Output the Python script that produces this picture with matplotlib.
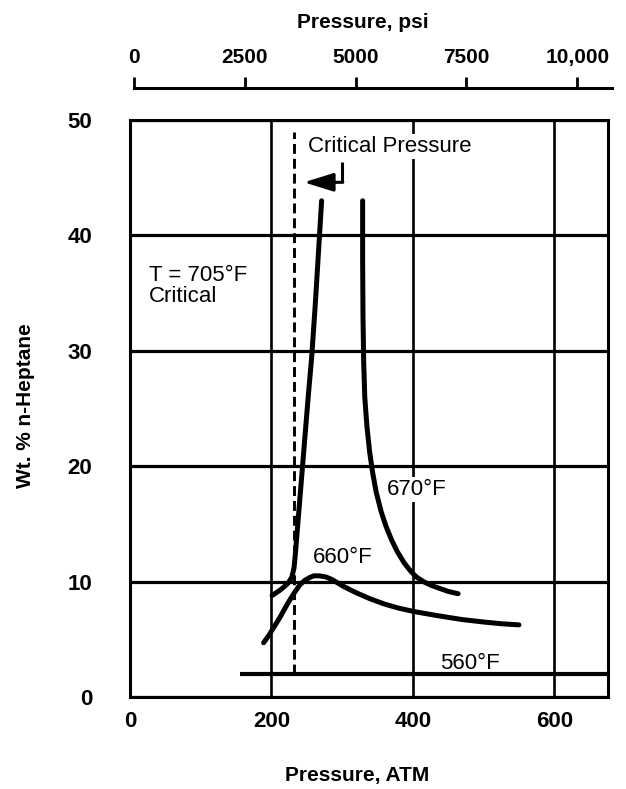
import matplotlib
matplotlib.use("Agg")
import matplotlib.pyplot as plt

plt.rcParams['font.family'] = ['Liberation Sans', 'DejaVu Sans']

# Pressure (atm) and wt. % n-heptane for each isotherm
t670_left_p = [201, 206, 212, 218, 224, 229, 232, 234, 236, 240, 244, 248, 252, 257, 262, 267, 271]
t670_left_w = [8.8, 9.0, 9.25, 9.55, 9.9, 10.4, 11.2, 12.5, 14.0, 17.0, 20.0, 23.0, 26.0, 29.5, 34.0, 39.0, 43.0]
t670_right_p = [329, 329, 329.5, 330.5, 332, 335, 339, 343, 348, 355, 362, 370, 378, 388, 397,
                405, 415, 425, 436, 450, 464]
t670_right_w = [43.0, 38.0, 33.0, 29.0, 26.0, 23.5, 21.2, 19.5, 17.8, 16.1, 14.8, 13.6, 12.6, 11.6, 10.9,
                10.4, 10.0, 9.7, 9.45, 9.15, 8.95]
t660_p = [189, 197, 204, 213, 222, 231, 240, 247, 254, 260, 268, 277, 285, 292, 300, 311, 323,
          340, 360, 380, 402, 430, 450, 471, 500, 525, 550]
t660_w = [4.7, 5.4, 6.1, 7.0, 8.0, 8.9, 9.7, 10.1, 10.35, 10.5, 10.5, 10.4, 10.2, 9.95, 9.65, 9.3, 8.95,
          8.5, 8.05, 7.7, 7.4, 7.1, 6.9, 6.7, 6.5, 6.35, 6.25]
t560_p = [155, 676]
t560_w = [2.0, 2.0]
crit_p = [232, 232]
crit_w = [2.0, 49.0]

atm_ticks = [0, 200, 400, 600]
wt_ticks = [0, 10, 20, 30, 40, 50]
psi_ticks = [0, 2500, 5000, 7500, 10000]
psi_labels = ['0', '2500', '5000', '7500', '10,000']

W, H = 626, 789
fig = plt.figure(figsize=(W / 100, H / 100), dpi=100)
ax = fig.add_axes([130 / W, 1 - 697 / H, 478 / W, 577 / H])

ax.set_xlim(0, 676)
ax.set_ylim(0, 50)
ax.set_xticks(atm_ticks)
ax.set_yticks(wt_ticks)
ax.tick_params(length=0, labelsize=16, pad=10)
ax.tick_params(axis='y', pad=27)
for lab in ax.get_xticklabels() + ax.get_yticklabels():
    lab.set_fontweight('bold')
for sp in ax.spines.values():
    sp.set_linewidth(2.2)
ax.set_axisbelow(True)
ax.grid(axis='y', color='black', lw=2.3)
ax.grid(axis='x', color='black', lw=1.9)

curve = dict(color='black', lw=3.6, solid_capstyle='round', solid_joinstyle='round')
ax.plot(t670_left_p, t670_left_w, **curve)
ax.plot(t670_right_p, t670_right_w, **curve)
ax.plot(t660_p, t660_w, **curve)
ax.plot(t560_p, t560_w, color='black', lw=3.0, solid_capstyle='butt', clip_on=False)
ax.plot(crit_p, crit_w, color='black', lw=2.1, linestyle=(0, (3.4, 1.7)))

# arrow pointing to the critical pressure line
ax.plot([300, 300], [46.4, 44.6], color='black', lw=2.2, solid_capstyle='butt')
ax.annotate('', xy=(246, 44.6), xytext=(301, 44.6),
            arrowprops=dict(arrowstyle='-|>,head_length=0.9,head_width=0.28',
                            mutation_scale=20, lw=2.2, color='black',
                            shrinkA=0, shrinkB=0))

box = dict(facecolor='white', edgecolor='none', pad=1.5)
ax.text(252, 47.7, 'Critical Pressure', fontsize=16, ha='left', va='center',
        bbox=box, zorder=5)
ax.text(27, 37.4, 'T = 705°F\nCritical', fontsize=16, ha='left', va='top',
        linespacing=1.0, zorder=5)
ax.text(405, 18.0, '670°F', fontsize=16, ha='center', va='center', bbox=box, zorder=5)
ax.text(301, 12.05, '660°F', fontsize=16, ha='center', va='center', zorder=5)
ax.text(481, 2.9, '560°F', fontsize=16, ha='center', va='center', zorder=5)

fig.text(357 / W, 1 - 775 / H, 'Pressure, ATM', fontsize=15, fontweight='bold',
         ha='center', va='center')
fig.text(26 / W, 1 - 406 / H, 'Wt. % n-Heptane', fontsize=15, fontweight='bold',
         ha='center', va='center', rotation=90)

# secondary pressure scale in psi
axp = fig.add_axes([134 / W, 1 - 88 / H, (612 - 134) / W, 0.0001])
axp.set_xlim(0, 10785)
axp.set_yticks([])
for name, sp in axp.spines.items():
    sp.set_visible(name == 'top')
axp.spines['top'].set_linewidth(2.2)
axp.xaxis.set_ticks_position('top')
axp.xaxis.set_label_position('top')
axp.set_xticks(psi_ticks)
axp.set_xticklabels(psi_labels)
axp.tick_params(axis='x', direction='out', length=8, width=2.0, labelsize=15, pad=7)
for lab in axp.get_xticklabels():
    lab.set_fontweight('bold')
axp.patch.set_visible(False)
fig.text(363 / W, 1 - 22 / H, 'Pressure, psi', fontsize=15, fontweight='bold',
         ha='center', va='center')

fig.savefig('out.png', dpi=100)
